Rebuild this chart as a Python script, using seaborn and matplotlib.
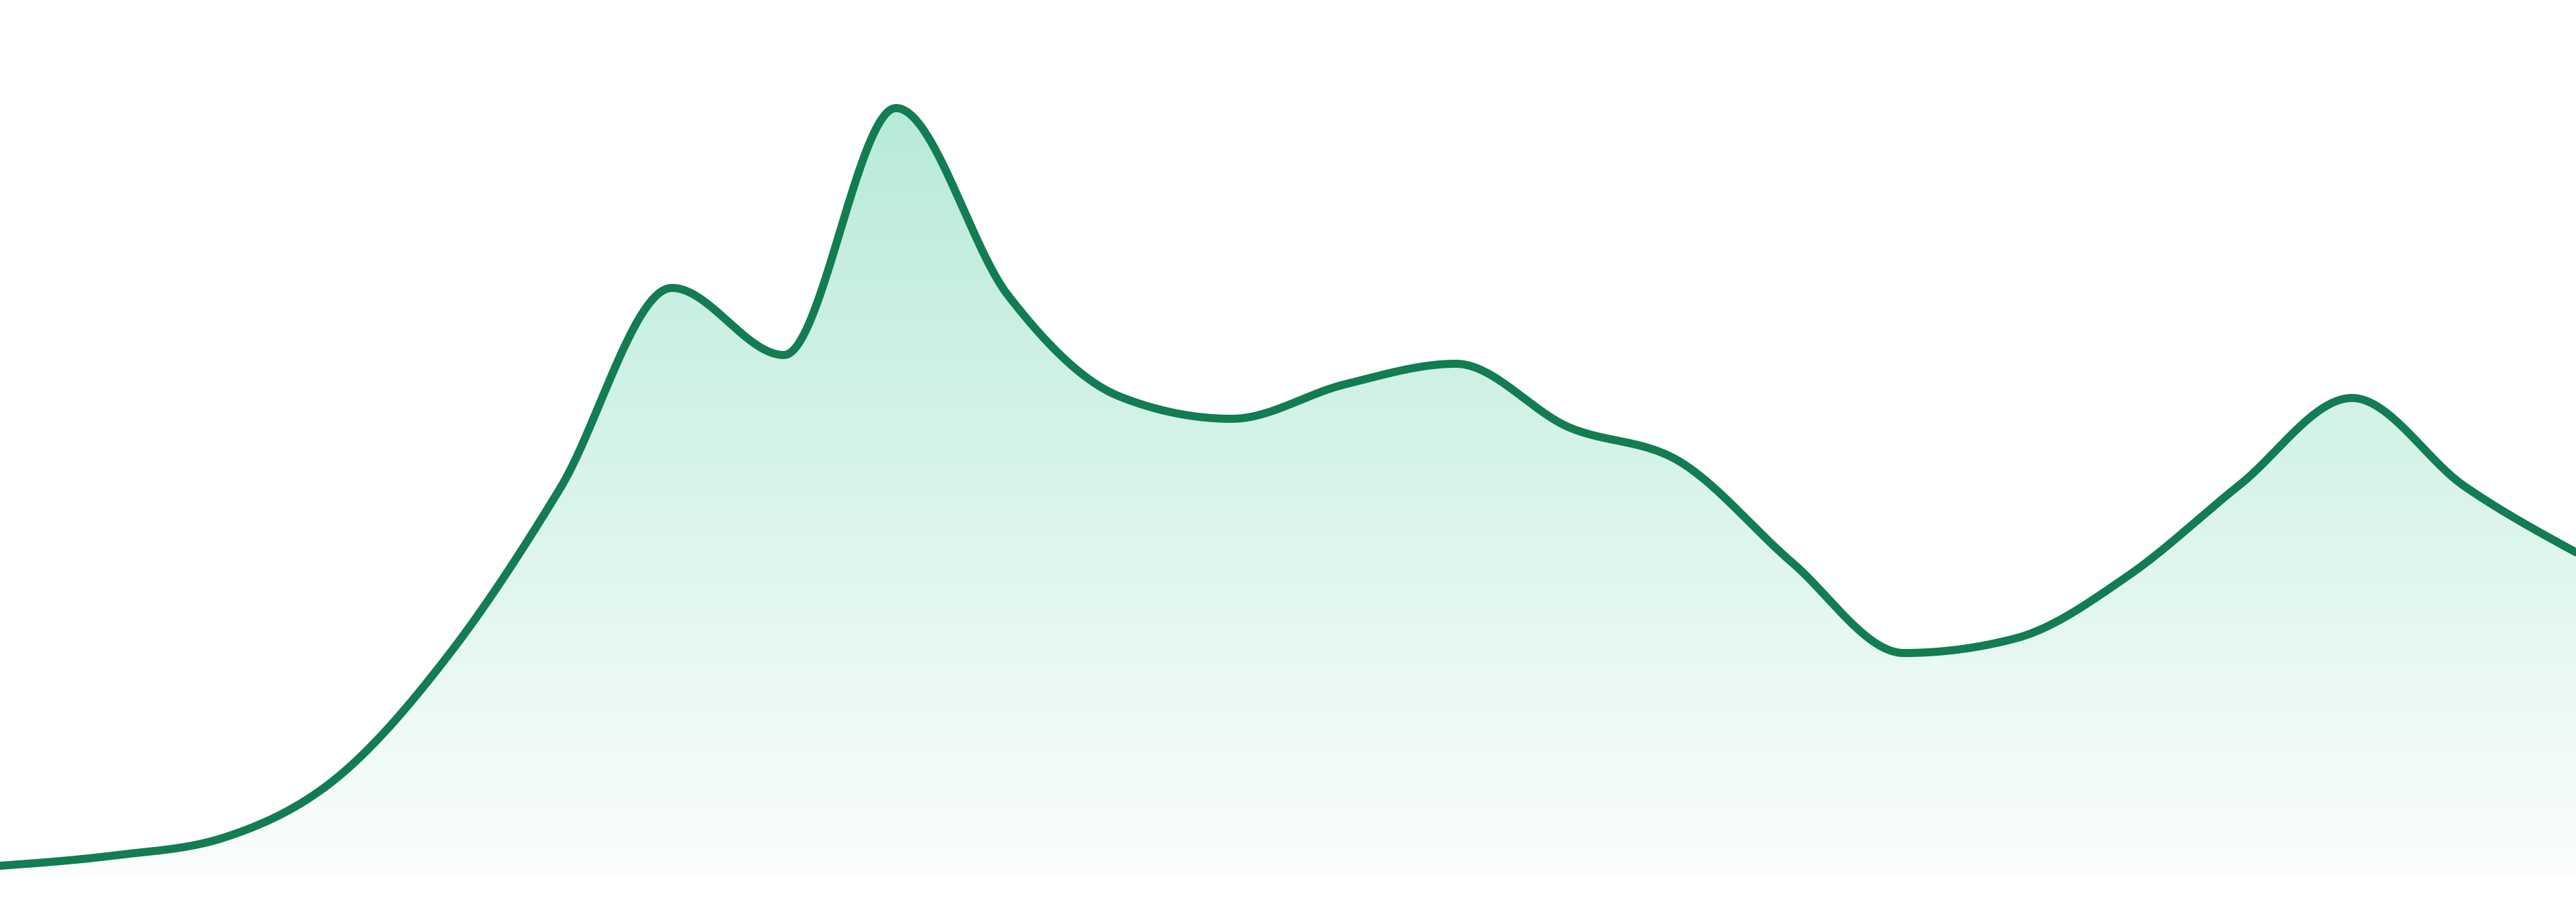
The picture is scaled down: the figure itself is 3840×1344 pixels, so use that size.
import numpy as np
import pandas as pd
import matplotlib
matplotlib.use("Agg")
import matplotlib.pyplot as plt
import seaborn as sns

# knot values (24 evenly spaced points)
points = list(range(24))
values = [16, 31, 58, 146, 329, 578, 877, 777, 1145, 866, 715, 682,
          733, 764, 670, 618, 468, 333, 355, 448, 584, 713, 582, 483]

line_color = "#127c52"
fill_color = "#10b981"


def monotone_x(x, y, steps=60):
    # same idea as d3.curveMonotoneX: hermite pieces with Steffen slopes
    x = np.asarray(x, float)
    y = np.asarray(y, float)
    h = np.diff(x)
    s = np.diff(y) / h
    t = np.zeros(len(y))
    for i in range(1, len(y) - 1):
        p = (s[i - 1] * h[i] + s[i] * h[i - 1]) / (h[i - 1] + h[i])
        t[i] = (np.sign(s[i - 1]) + np.sign(s[i])) * min(abs(s[i - 1]), abs(s[i]), 0.5 * abs(p))
    t[0] = (3 * s[0] - t[1]) / 2
    t[-1] = (3 * s[-1] - t[-2]) / 2
    xs, ys = [], []
    for i in range(len(h)):
        u = np.linspace(0, 1, steps, endpoint=(i == len(h) - 1))
        h00 = 2 * u**3 - 3 * u**2 + 1
        h10 = u**3 - 2 * u**2 + u
        h01 = -2 * u**3 + 3 * u**2
        h11 = u**3 - u**2
        xs.append(x[i] + u * h[i])
        ys.append(h00 * y[i] + h10 * h[i] * t[i] + h01 * y[i + 1] + h11 * h[i] * t[i + 1])
    return np.concatenate(xs), np.concatenate(ys)


cx, cy = monotone_x(points, values)
curve = pd.DataFrame({"x": cx, "y": cy})

sns.set_theme(style="white")
fig = plt.figure(figsize=(38.4, 13.44), dpi=100)
ax = fig.add_axes([0, 0, 1, 1])

ymin, ymax = -38, 1306
ax.set_xlim(0, 23)
ax.set_ylim(ymin, ymax)

# gradient area under the line
poly = ax.fill_between(curve["x"], curve["y"], 0, color="none", lw=0)
rgb = matplotlib.colors.to_rgb(fill_color)
grad = np.zeros((256, 1, 4))
grad[:, 0, :3] = rgb
grad[:, 0, 3] = np.linspace(0.02, 0.30, 256)
top = max(values)
img = ax.imshow(grad, extent=[0, 23, 0, top], origin="lower", aspect="auto", zorder=1)
img.set_clip_path(poly.get_paths()[0], transform=ax.transData)

sns.lineplot(data=curve, x="x", y="y", ax=ax, color=line_color, linewidth=12 * 72 / 100,
             sort=False, zorder=3)
for l in ax.lines:
    l.set_solid_capstyle("round")
    l.set_solid_joinstyle("round")

ax.set_xlim(0, 23)
ax.set_ylim(ymin, ymax)
ax.axis("off")

fig.savefig("out.png", dpi=100, facecolor="white")
